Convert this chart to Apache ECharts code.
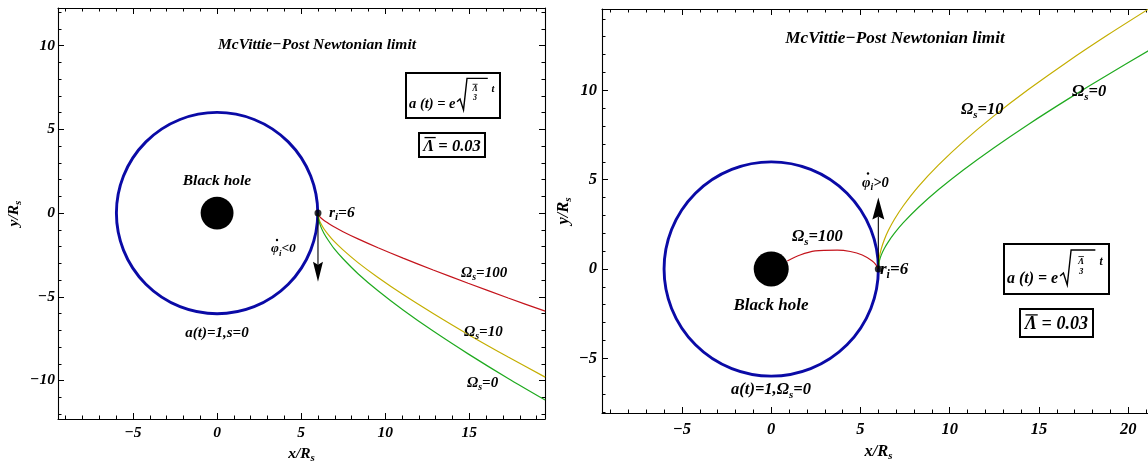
<!DOCTYPE html>
<html><head><meta charset="utf-8">
<script src="https://cdn.jsdelivr.net/npm/echarts@6/dist/echarts.min.js"></script>
<style>html,body{margin:0;padding:0;background:#fff}#c{width:1148px;height:461px}</style>
</head><body><div id="c"></div>
<script>
// ---------- data ----------
// left panel: phi_dot_i < 0
const leftRed    = [[6,0],[6.06,-0.16],[6.18,-0.29],[6.36,-0.44],[6.60,-0.60],[6.95,-0.82],[7.49,-1.11],[8.38,-1.54],[9.57,-2.07],[11.06,-2.69],[12.85,-3.40],[14.93,-4.19],[17.31,-5.07],[19.51,-5.86]];
const leftYellow = [[6,0],[6.06,-0.36],[6.18,-0.64],[6.36,-0.95],[6.60,-1.27],[6.95,-1.68],[7.49,-2.20],[8.38,-2.96],[9.57,-3.85],[11.06,-4.87],[12.85,-6.00],[14.93,-7.25],[17.31,-8.60],[19.51,-9.80]];
const leftGreen  = [[6,0],[6.06,-0.47],[6.18,-0.84],[6.36,-1.22],[6.60,-1.61],[6.95,-2.11],[7.49,-2.73],[8.38,-3.62],[9.57,-4.64],[11.06,-5.79],[12.85,-7.05],[14.93,-8.41],[17.31,-9.88],[19.51,-11.17]];
// right panel: phi_dot_i > 0
const rightRed    = [[0.90,0.45],[1.62,0.78],[2.46,1.01],[3.70,1.06],[4.43,0.98],[5.10,0.78],[5.66,0.45],[5.88,0.22],[6,0]];
const rightYellow = [[6,0],[6.056,0.65],[6.168,1.14],[6.336,1.64],[6.560,2.15],[6.896,2.77],[7.401,3.54],[8.241,4.61],[9.361,5.81],[10.762,7.13],[12.443,8.54],[14.403,10.04],[16.644,11.63],[18.885,13.12],[21.126,14.54]];
const rightGreen  = [[6,0],[6.056,0.44],[6.168,0.79],[6.336,1.15],[6.560,1.52],[6.896,1.99],[7.401,2.59],[8.241,3.44],[9.361,4.43],[10.762,5.54],[12.443,6.76],[14.403,8.09],[16.644,9.52],[18.885,10.89],[21.126,12.21]];
// circular orbit (a(t)=1, s=0) and black hole: [cx, cy, radius]
const orbit = [[0,0,6]];
const blackHole = [[0,0,0.98]];
const startPoint = [[6,0]];
// initial velocity arrows [x0,y0,x1,y1]
const leftArrow = [[6,0,6,-4.1]];
const rightArrow = [[6,0,6,4.0]];
// axis ranges and ticks
const leftXRange = [-9.46, 19.5], leftYRange = [-12.3, 12.25];
const rightXRange = [-9.48, 21.5], rightYRange = [-8.06, 14.55];
const leftXMajor = [-5,0,5,10,15];
const leftYMajor = [-10,-5,0,5,10];
const rightXMajor = [-5,0,5,10,15,20];
const rightYMajor = [-5,0,5,10];
const leftXMinor = [-9,-8,-7,-6,-4,-3,-2,-1,1,2,3,4,6,7,8,9,11,12,13,14,16,17,18,19];
const leftYMinor = [-12,-11,-9,-8,-7,-6,-4,-3,-2,-1,1,2,3,4,6,7,8,9,11,12];
const rightXMinor = [-9,-8,-7,-6,-4,-3,-2,-1,1,2,3,4,6,7,8,9,11,12,13,14,16,17,18,19,21];
const rightYMinor = [-8,-7,-6,-4,-3,-2,-1,1,2,3,4,6,7,8,9,11,12,13,14];

// ---------- styling ----------
const F = '"Liberation Serif","DejaVu Serif",serif';
const BLUE = '#0a0aa6', RED = '#c4141c', YEL = '#c4ae00', GRN = '#1faa1f';
function R(size){
  return {
    m:{fontSize:size,fontFamily:F,fontWeight:'bold',fontStyle:'italic',color:'#000',lineHeight:size+4,verticalAlign:'middle'},
    s:{fontSize:Math.round(size*0.68),fontFamily:F,fontWeight:'bold',fontStyle:'italic',color:'#000',lineHeight:Math.round(size*0.68),verticalAlign:'bottom'}
  };
}
function fmt(v){ return String(v).replace('-', '\u2212'); }

function axes(g, xr, yr, xMaj, xMin, yMaj, yMin, fs, xName, yName, xGap, yGap, xMargin, yMargin){
  const common = {type:'value', gridIndex:g, splitLine:{show:false}};
  const line = {show:true, onZero:false, lineStyle:{color:'#000', width:1.1}};
  const tk = (vals,len)=>({show:true, inside:true, length:len, customValues:vals, lineStyle:{color:'#000', width:1}});
  const lab = (vals,mg)=>({show:true, customValues:vals, formatter:fmt, margin:mg, color:'#000', fontFamily:F, fontWeight:'bold', fontStyle:'italic', fontSize:fs});
  const xs = [
    Object.assign({}, common, {min:xr[0], max:xr[1], position:'bottom', axisLine:line, axisTick:tk(xMaj,6), axisLabel:lab(xMaj,xMargin),
      name:xName, nameLocation:'middle', nameGap:xGap, nameTextStyle:{rich:R(fs)}}),
    Object.assign({}, common, {min:xr[0], max:xr[1], position:'bottom', axisLine:{show:false,onZero:false}, axisTick:tk(xMin,3.5), axisLabel:{show:false}}),
    Object.assign({}, common, {min:xr[0], max:xr[1], position:'top', axisLine:line, axisTick:tk(xMaj,6), axisLabel:{show:false}}),
    Object.assign({}, common, {min:xr[0], max:xr[1], position:'top', axisLine:{show:false,onZero:false}, axisTick:tk(xMin,3.5), axisLabel:{show:false}})
  ];
  const ys = [
    Object.assign({}, common, {min:yr[0], max:yr[1], position:'left', axisLine:line, axisTick:tk(yMaj,6), axisLabel:lab(yMaj,yMargin),
      name:yName, nameLocation:'middle', nameGap:yGap, nameRotate:90, nameTextStyle:{rich:R(fs)}}),
    Object.assign({}, common, {min:yr[0], max:yr[1], position:'left', axisLine:{show:false,onZero:false}, axisTick:tk(yMin,3.5), axisLabel:{show:false}}),
    Object.assign({}, common, {min:yr[0], max:yr[1], position:'right', axisLine:line, axisTick:tk(yMaj,6), axisLabel:{show:false}}),
    Object.assign({}, common, {min:yr[0], max:yr[1], position:'right', axisLine:{show:false,onZero:false}, axisTick:tk(yMin,3.5), axisLabel:{show:false}})
  ];
  return {xs, ys};
}

const A0 = axes(0, leftXRange, leftYRange, leftXMajor, leftXMinor, leftYMajor, leftYMinor, 15.5,
  '{m|x/R}{s|s}', '{m|y/R}{s|s}', 21, 34, 6, 3);
const A1 = axes(1, rightXRange, rightYRange, rightXMajor, rightXMinor, rightYMajor, rightYMinor, 16.5,
  '{m|x/R}{s|s}', '{m|y/R}{s|s}', 27, 28, 8, 5);

function circleItem(stroke, fill, lw){
  return function(params, api){
    const c = api.coord([api.value(0), api.value(1)]);
    const s = api.size([api.value(2), api.value(2)]);
    return {type:'circle', shape:{cx:c[0], cy:c[1], r:(s[0]+s[1])/2}, style:{fill:fill, stroke:stroke, lineWidth:lw}};
  };
}
function arrowItem(hl, hw){
  return function(params, api){
    const p0 = api.coord([api.value(0), api.value(1)]);
    const p1 = api.coord([api.value(2), api.value(3)]);
    const dx = p1[0]-p0[0], dy = p1[1]-p0[1], L = Math.hypot(dx,dy);
    const ux = dx/L, uy = dy/L, nx = -uy, ny = ux;
    const bx = p1[0]-ux*hl, by = p1[1]-uy*hl;
    return {type:'group', children:[
      {type:'line', shape:{x1:p0[0], y1:p0[1], x2:bx+ux*3, y2:by+uy*3}, style:{stroke:'#000', lineWidth:1.1}},
      {type:'polygon', shape:{points:[[p1[0],p1[1]],[bx+nx*hw,by+ny*hw],[bx+ux*3,by+uy*3],[bx-nx*hw,by-ny*hw]]}, style:{fill:'#000'}}
    ]};
  };
}
function panelSeries(g, red, yel, grn, arrow, hl, hw){
  const ax = {xAxisIndex:g*4, yAxisIndex:g*4};
  const ln = (d,c,z)=>Object.assign({type:'line', data:d, showSymbol:false, smooth:0.25, clip:true, z:z,
    lineStyle:{color:c, width:1.2}, silent:true, animation:false}, ax);
  return [
    Object.assign({type:'custom', data:orbit, encode:{x:0,y:1}, renderItem:circleItem(BLUE,'none',2.9), z:2, silent:true, animation:false}, ax),
    Object.assign({type:'custom', data:blackHole, encode:{x:0,y:1}, renderItem:circleItem('#000','#000',0), z:3, silent:true, animation:false}, ax),
    ln(red, RED, 4), ln(yel, YEL, 4), ln(grn, GRN, 4),
    Object.assign({type:'custom', data:arrow, encode:{x:[0,2],y:[1,3]}, renderItem:arrowItem(hl,hw), z:5, silent:true, animation:false}, ax),
    Object.assign({type:'scatter', data:startPoint, symbolSize:7, itemStyle:{color:'#000'}, z:6, silent:true, animation:false}, ax)
  ];
}

function T(x, y, text, size, align){
  return {type:'text', x:x, y:y, z:100, style:{text:text, align:align||'left', verticalAlign:'middle', rich:R(size),
    font:'italic bold '+size+'px '+F, fill:'#000'}};
}
function dot(x, y){
  return {type:'circle', z:101, shape:{cx:x, cy:y, r:1.2}, style:{fill:'#000'}};
}
function formulaBox(x0, y0, w, h, k){
  const fx = x0+0.735*w;
  return [
    {type:'rect', z:90, shape:{x:x0, y:y0, width:w, height:h}, style:{fill:'#fff', stroke:'#000', lineWidth:2}},
    {type:'text', z:100, x:x0+3, y:y0+0.7*h, style:{text:'a (t) = e', align:'left', verticalAlign:'middle', font:'italic bold '+(14.5*k)+'px '+F, fill:'#000'}},
    {type:'polyline', z:100, shape:{points:[[x0+51*k,y0+0.64*h],[x0+54*k,y0+0.58*h],[x0+57.5*k,y0+0.82*h],[x0+61*k,y0+0.12*h],[x0+0.87*w,y0+0.12*h]]},
      style:{stroke:'#000', lineWidth:1.4, fill:'none'}},
    {type:'text', z:100, x:fx, y:y0+0.35*h, style:{text:'\u039B', align:'center', verticalAlign:'middle', font:'italic bold '+(8*k)+'px '+F, fill:'#000'}},
    {type:'line', z:100, shape:{x1:fx-2.5*k, y1:y0+0.35*h-4.5*k, x2:fx+2.5*k, y2:y0+0.35*h-4.5*k}, style:{stroke:'#000', lineWidth:0.8}},
    {type:'text', z:100, x:fx, y:y0+0.56*h, style:{text:'3', align:'center', verticalAlign:'middle', font:'italic bold '+(8*k)+'px '+F, fill:'#000'}},
    {type:'text', z:100, x:x0+0.925*w, y:y0+0.36*h, style:{text:'t', align:'center', verticalAlign:'middle', font:'italic bold '+(10.5*k)+'px '+F, fill:'#000'}}
  ];
}
function lambdaBox(x0, y0, w, h, fs){
  return [
    {type:'rect', z:90, shape:{x:x0, y:y0, width:w, height:h}, style:{fill:'#fff', stroke:'#000', lineWidth:2}},
    {type:'text', z:100, x:x0+w/2, y:y0+h/2+1.5, style:{text:'\u039B = 0.03', align:'center', verticalAlign:'middle', font:'italic bold '+fs+'px '+F, fill:'#000'}},
    {type:'line', z:100, shape:{x1:x0+5.5, y1:y0+h/2-fs*0.45, x2:x0+5.5+fs*0.68, y2:y0+h/2-fs*0.45}, style:{stroke:'#000', lineWidth:1.3}}
  ];
}

const graphics = [].concat(
  // left panel annotations
  [T(317,45,'{m|McVittie\u2212Post Newtonian limit}',15.5,'center'),
   T(217,181,'{m|Black hole}',15.5,'center'),
   T(329,213,'{m|r}{s|i}{m|=6}',15.5),
   T(271,249,'{m|\u03C6}{s|i}{m|<0}',13.5), dot(277,240),
   T(217,333,'{m|a(t)=1,s=0}',15,'center'),
   T(461,273,'{m|\u03A9}{s|s}{m|=100}',15),
   T(464,332,'{m|\u03A9}{s|s}{m|=10}',15),
   T(467,383,'{m|\u03A9}{s|s}{m|=0}',15)],
  formulaBox(406,73,94,45,1),
  lambdaBox(419,133,66,24,16.5),
  // right panel annotations
  [T(895,39,'{m|McVittie\u2212Post Newtonian limit}',17.2,'center'),
   T(862,183,'{m|\u03C6}{s|i}{m|>0}',14.5), dot(868,173.5),
   T(880,270,'{m|r}{s|i}{m|=6}',17),
   T(792,237,'{m|\u03A9}{s|s}{m|=100}',16.5),
   T(771,306,'{m|Black hole}',17,'center'),
   T(771,390,'{m|a(t)=1,\u03A9}{s|s}{m|=0}',16.5,'center'),
   T(961,110,'{m|\u03A9}{s|s}{m|=10}',16.5),
   T(1072,92,'{m|\u03A9}{s|s}{m|=0}',16.5)],
  formulaBox(1004,244,105,50,1.1),
  lambdaBox(1020,309,73,28,18)
);

const chart = echarts.init(document.getElementById('c'), null, {renderer:'canvas'});
chart.setOption({
  animation:false,
  backgroundColor:'#fff',
  grid:[
    {left:58, top:8, width:487, height:411, containLabel:false, outerBoundsMode:'none'},
    {left:602, top:9, width:553, height:404, containLabel:false, outerBoundsMode:'none'}
  ],
  xAxis: A0.xs.concat(A1.xs),
  yAxis: A0.ys.concat(A1.ys),
  series: panelSeries(0, leftRed, leftYellow, leftGreen, leftArrow, 20, 5)
    .concat(panelSeries(1, rightRed, rightYellow, rightGreen, rightArrow, 22, 6)),
  graphic: graphics
});
</script></body></html>
